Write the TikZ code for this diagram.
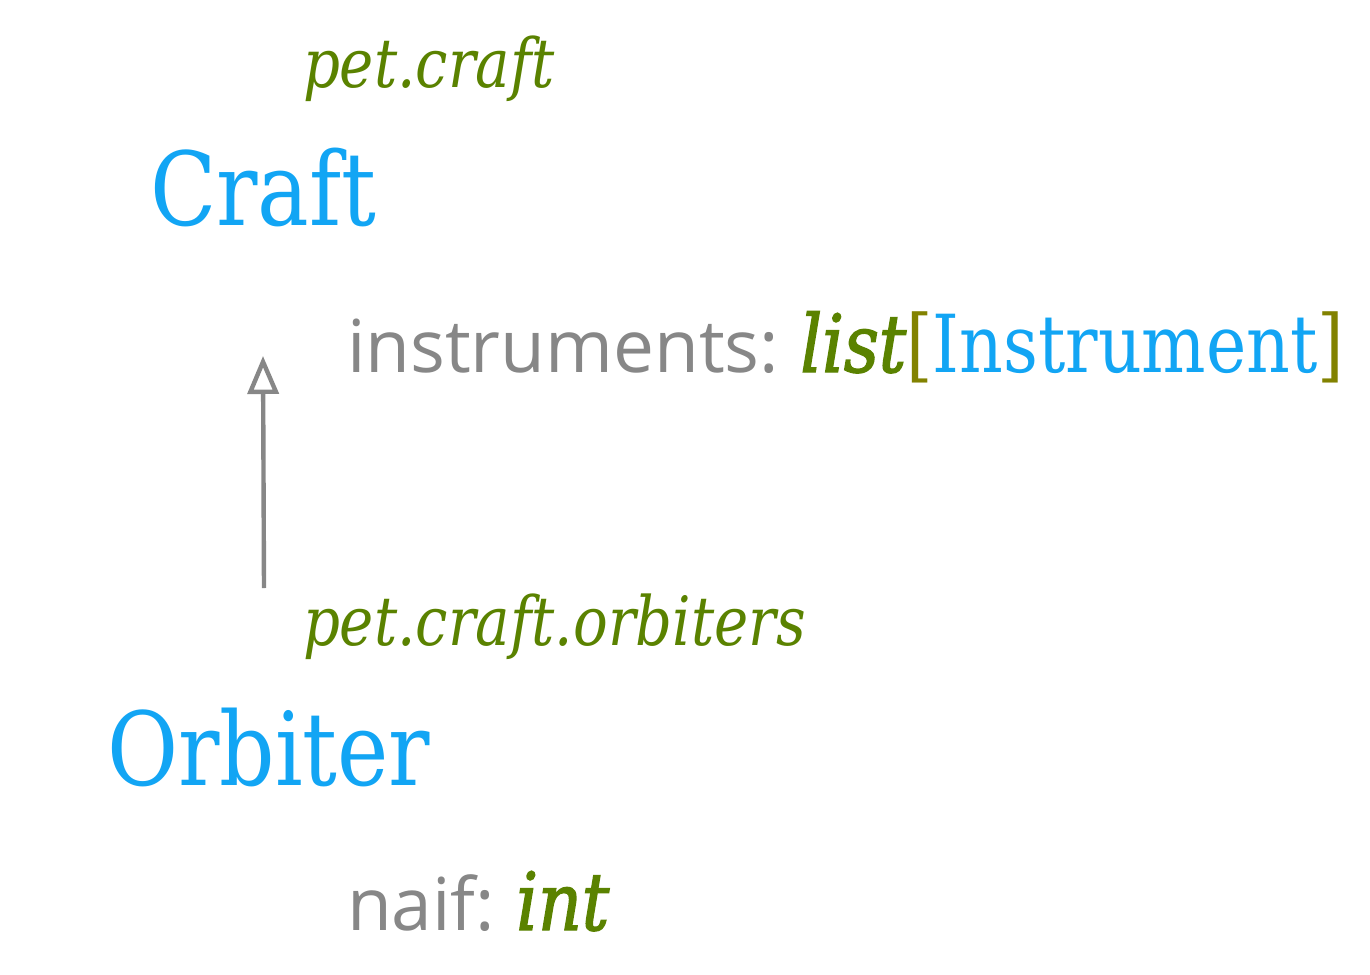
\documentclass[tikz,border=0pt]{standalone}
\usepackage{fontspec}
\setmainfont{DejaVu Serif}
\newfontfamily\attrfont{Open Sans}
\newfontfamily\slabfont[FakeStretch=0.85]{DejaVu Serif}
\newfontfamily\typefont[FakeStretch=0.85,FakeBold=1.8]{DejaVu Serif}
\definecolor{clsblue}{HTML}{12A5F4}
\definecolor{modgreen}{HTML}{5A8200}
\definecolor{brkolive}{HTML}{828200}
\definecolor{attrgray}{HTML}{878787}
\newcommand{\typesize}{\fontsize{40}{44}\selectfont}
\usetikzlibrary{arrows.meta}
\begin{document}
\begin{tikzpicture}[x=0.5pt,y=-0.5pt,
  every node/.style={inner sep=0pt,outer sep=0pt,anchor=base west},
  modname/.style={text=modgreen,font=\slabfont\itshape\fontsize{34}{40}\selectfont},
  clsname/.style={text=clsblue,font=\slabfont\fontsize{51}{60}\selectfont},
  attr/.style={text=attrgray,font=\attrfont\fontsize{36.5}{44}\selectfont},
  inherit/.style={draw=attrgray,line width=2.2pt,-{Triangle[open,length=19pt,width=15.5pt,line width=2.2pt]}}]
\useasboundingbox (0,0) rectangle (1370,974);
\node[modname] (craftmod) at (303,88) {pet.craft};
\node[clsname] (craft) at (150,225) {Craft};
\node[attr] (instr) at (347,372) {instruments: \hspace{-2pt}{\typefont\typesize\itshape\color{modgreen}list}{\slabfont\typesize\color{brkolive}[}{\slabfont\typesize\color{clsblue}Instrument}{\slabfont\typesize\color{brkolive}]}};
\node[modname] (orbmod) at (303,645) {pet.craft.orbiters};
\node[clsname] (orbiter) at (107,785) {Orbiter};
\node[attr] (naif) at (347,930) {naif: \hspace{-2pt}{\typefont\typesize\itshape\color{modgreen}int}};
\coordinate (sub) at (264,588);
\coordinate (super) at (263,356);
\draw[inherit] (sub) -- (super);
\end{tikzpicture}
\end{document}
